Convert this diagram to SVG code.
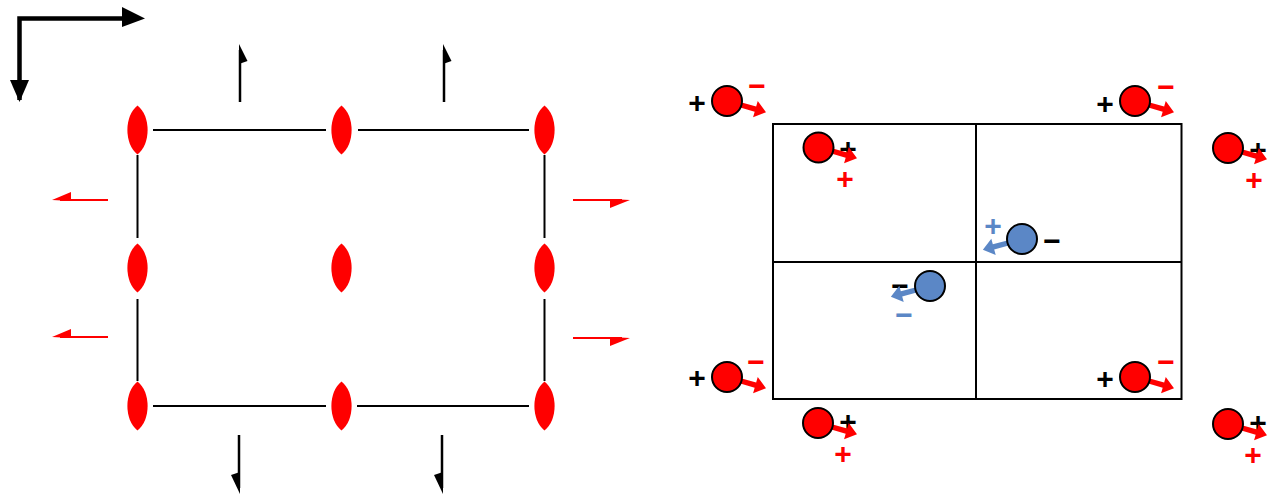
<svg xmlns="http://www.w3.org/2000/svg" width="1269" height="498" viewBox="0 0 1269 498">
<style>
.ln{stroke:#000;stroke-width:2;fill:none}
.rl{stroke:#f00;stroke-width:2;fill:none}
.lens{fill:#f00}
.rc{fill:#f00;stroke:#000;stroke-width:2}
.bc{fill:#5b87c6;stroke:#000;stroke-width:2}
.ra{fill:#f00}
.ba{fill:#5b87c6}
.s{font-family:"Liberation Sans",Arial,sans-serif;font-weight:bold;font-size:30px;text-anchor:middle}
.k{fill:#000}
.r{fill:#f00}
.b{fill:#5b87c6}
</style>
<defs>
<path id="lensP" d="M0,-24.5 C13.5,-14 13.5,14 0,24.5 C-13.5,14 -13.5,-14 0,-24.5 Z"/>
<path id="fat" d="M0,-2.7 L15,-2.7 L15,-8.5 L26,0 L15,8.5 L15,2.7 L0,2.7 Z"/>
</defs>
<rect width="1269" height="498" fill="#fff"/>
<g id="axes">
<path d="M19.5,100 L19.5,18.5 L124,18.5" stroke="#000" stroke-width="4.5" fill="none"/>
<polygon points="122,7 145,18.5 122,27" fill="#000"/>
<polygon points="10,80 29,80 19.5,102" fill="#000"/>
</g>
<g id="connectors">
<line class="ln" x1="153" y1="130" x2="326" y2="130"/>
<line class="ln" x1="358" y1="130" x2="529" y2="130"/>
<line class="ln" x1="153" y1="406" x2="326" y2="406"/>
<line class="ln" x1="357" y1="406" x2="529" y2="406"/>
<line class="ln" x1="137.5" y1="155" x2="137.5" y2="238"/>
<line class="ln" x1="137.5" y1="299" x2="137.5" y2="381"/>
<line class="ln" x1="544.5" y1="155" x2="544.5" y2="238"/>
<line class="ln" x1="544.5" y1="299" x2="544.5" y2="381"/>
<line x1="240" y1="102" x2="240" y2="50" stroke="#000" stroke-width="2.5"/>
<polygon points="239,44 247.5,61 239,64" fill="#000"/>
<line x1="444" y1="102" x2="444" y2="50" stroke="#000" stroke-width="2.5"/>
<polygon points="443,44 451.5,61 443,64" fill="#000"/>
<line x1="239" y1="435" x2="239" y2="488" stroke="#000" stroke-width="2.5"/>
<polygon points="240,494 231,475 240,472" fill="#000"/>
<line x1="442" y1="435" x2="442" y2="488" stroke="#000" stroke-width="2.5"/>
<polygon points="443,494 434,475 443,472" fill="#000"/>
<line class="rl" x1="60" y1="200" x2="108" y2="200"/>
<polygon points="52,200 71,192 71,201" fill="#f00"/>
<line class="rl" x1="60" y1="337" x2="108" y2="337"/>
<polygon points="52,337 71,329 71,338" fill="#f00"/>
<line class="rl" x1="573" y1="200" x2="622" y2="200"/>
<polygon points="630,200 610,208 610,199" fill="#f00"/>
<line class="rl" x1="573" y1="338" x2="622" y2="338"/>
<polygon points="630,338 610,346 610,337" fill="#f00"/>
</g>
<g id="lenses">
<use href="#lensP" class="lens" x="137.5" y="130"/>
<use href="#lensP" class="lens" x="341.5" y="130"/>
<use href="#lensP" class="lens" x="544.5" y="130"/>
<use href="#lensP" class="lens" x="137.5" y="268"/>
<use href="#lensP" class="lens" x="341.5" y="268"/>
<use href="#lensP" class="lens" x="544.5" y="268"/>
<use href="#lensP" class="lens" x="137.5" y="406"/>
<use href="#lensP" class="lens" x="341.5" y="406"/>
<use href="#lensP" class="lens" x="544.5" y="406"/>
</g>
<g id="grid">
<rect x="773" y="124" width="408.5" height="275" fill="none" stroke="#000" stroke-width="2"/>
<line class="ln" x1="976" y1="124" x2="976" y2="399"/>
<line class="ln" x1="773" y1="262" x2="1181.5" y2="262"/>
</g>
<g id="red1">
<use href="#fat" class="ra" transform="translate(741,105) rotate(16)"/>
<circle class="rc" cx="727" cy="101" r="15"/>
<text class="s k" x="697" y="112.6">+</text>
<text class="s r" x="757" y="95.6">−</text>
</g>
<g id="red2">
<use href="#fat" class="ra" transform="translate(1149,105) rotate(16)"/>
<circle class="rc" cx="1135" cy="101" r="15"/>
<text class="s k" x="1105" y="113.6">+</text>
<text class="s r" x="1166" y="96.6">−</text>
</g>
<g id="red3">
<use href="#fat" class="ra" transform="translate(741,381) rotate(16)"/>
<circle class="rc" cx="727" cy="377" r="15"/>
<text class="s k" x="697" y="387.6">+</text>
<text class="s r" x="756" y="371.6">−</text>
</g>
<g id="red4">
<use href="#fat" class="ra" transform="translate(1149,381) rotate(16)"/>
<circle class="rc" cx="1135" cy="377" r="15"/>
<text class="s k" x="1105" y="388.6">+</text>
<text class="s r" x="1166" y="371.6">−</text>
</g>
<g id="red5">
<text class="s k" x="848" y="158.6">+</text>
<use href="#fat" class="ra" transform="translate(832,151) rotate(16)"/>
<circle class="rc" cx="818.5" cy="147.5" r="15"/>
<text class="s r" x="845" y="188.6">+</text>
</g>
<g id="red6">
<text class="s k" x="1258" y="159.6">+</text>
<use href="#fat" class="ra" transform="translate(1242,152) rotate(16)"/>
<circle class="rc" cx="1228" cy="148" r="15"/>
<text class="s r" x="1254" y="189.6">+</text>
</g>
<g id="red7">
<text class="s k" x="848" y="431.6">+</text>
<use href="#fat" class="ra" transform="translate(832,427) rotate(16)"/>
<circle class="rc" cx="818" cy="423" r="15"/>
<text class="s r" x="843" y="463.6">+</text>
</g>
<g id="red8">
<text class="s k" x="1258" y="432.6">+</text>
<use href="#fat" class="ra" transform="translate(1242,428) rotate(16)"/>
<circle class="rc" cx="1228" cy="424" r="15"/>
<text class="s r" x="1253" y="464.6">+</text>
</g>
<g id="blue1">
<use href="#fat" class="ba" transform="translate(1008,243) rotate(165)"/>
<circle class="bc" cx="1022" cy="239" r="15"/>
<text class="s b" x="993" y="235.6">+</text>
<text class="s k" x="1052" y="250.6">−</text>
</g>
<g id="blue2">
<text class="s k" x="900" y="295.6">−</text>
<use href="#fat" class="ba" transform="translate(916,290) rotate(165)"/>
<circle class="bc" cx="930" cy="286" r="15"/>
<text class="s b" x="904" y="324.6">−</text>
</g>
</svg>
